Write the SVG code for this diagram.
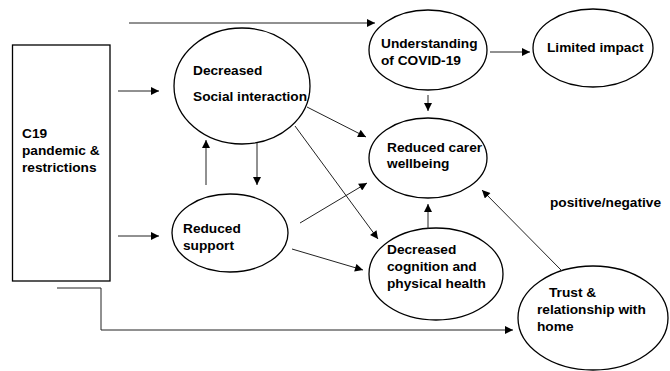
<svg xmlns="http://www.w3.org/2000/svg" width="670" height="371" viewBox="0 0 670 371">
<style>
.n{fill:#fff;stroke:#000;stroke-width:1.3}
.t{font-family:"Liberation Sans",Arial,sans-serif;font-weight:bold;font-size:13.7px;fill:#000}
.c{fill:none;stroke:#222;stroke-width:1}
</style>
<defs>
<marker id="a" viewBox="0 0 10 10" refX="10" refY="5" markerWidth="9" markerHeight="8" markerUnits="userSpaceOnUse" orient="auto">
<path d="M0,0 L10,5 L0,10 Z" fill="#000"/>
</marker>
</defs>
<rect width="670" height="371" fill="#fff"/>
<g id="c19">
<rect class="n" x="12.5" y="45" width="97.5" height="236"/>
<text class="t" x="22" y="138">C19</text>
<text class="t" x="22" y="155">pandemic &amp;</text>
<text class="t" x="22" y="172">restrictions</text>
</g>
<g id="dsi">
<ellipse class="n" cx="242" cy="86" rx="68" ry="58"/>
<text class="t" x="193" y="75">Decreased</text>
<text class="t" x="193" y="101">Social interaction</text>
</g>
<g id="rs">
<ellipse class="n" cx="230" cy="233" rx="58" ry="39"/>
<text class="t" x="183" y="233">Reduced</text>
<text class="t" x="183" y="250">support</text>
</g>
<g id="und">
<ellipse class="n" cx="428" cy="50" rx="59" ry="40"/>
<text class="t" x="381" y="48">Understanding</text>
<text class="t" x="381" y="65">of COVID-19</text>
</g>
<g id="lim">
<ellipse class="n" cx="593" cy="48" rx="60" ry="39"/>
<text class="t" x="547" y="52">Limited impact</text>
</g>
<g id="rcw">
<ellipse class="n" cx="428" cy="158" rx="59" ry="40"/>
<text class="t" x="387" y="152">Reduced carer</text>
<text class="t" x="387" y="168">wellbeing</text>
</g>
<g id="dcph">
<ellipse class="n" cx="436" cy="274" rx="67" ry="46"/>
<text class="t" x="387" y="254">Decreased</text>
<text class="t" x="387" y="271">cognition and</text>
<text class="t" x="387" y="288">physical health</text>
</g>
<g id="trust">
<ellipse class="n" cx="593" cy="318" rx="75" ry="52"/>
<text class="t" x="549" y="297">Trust &amp;</text>
<text class="t" x="537" y="314">relationship with</text>
<text class="t" x="537" y="331">home</text>
</g>
<g id="pn">
<text class="t" x="550" y="207">positive/negative</text>
</g>
<g id="connectors">
<path class="c" d="M129,23 H375" marker-end="url(#a)"/>
<path class="c" d="M118,91 H159" marker-end="url(#a)"/>
<path class="c" d="M118,236 H159" marker-end="url(#a)"/>
<path class="c" d="M206,185 V140" marker-end="url(#a)"/>
<path class="c" d="M257,143 V185" marker-end="url(#a)"/>
<path class="c" d="M490,52 H530" marker-end="url(#a)"/>
<path class="c" d="M428,95 V111" marker-end="url(#a)"/>
<path class="c" d="M307,107 L366,137" marker-end="url(#a)"/>
<path class="c" d="M295,126 L378,239" marker-end="url(#a)"/>
<path class="c" d="M300,223 L367,183" marker-end="url(#a)"/>
<path class="c" d="M292,249 L363,270" marker-end="url(#a)"/>
<path class="c" d="M428,229 V204" marker-end="url(#a)"/>
<path class="c" d="M562,271 L482,190" marker-end="url(#a)"/>
<path class="c" d="M57,288 H101 V330 H513" marker-end="url(#a)"/>
</g>
</svg>
